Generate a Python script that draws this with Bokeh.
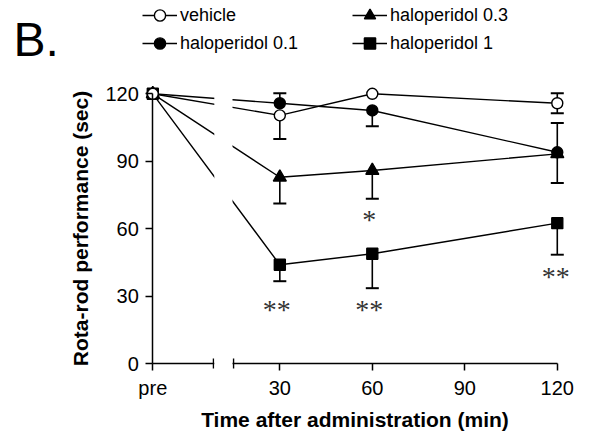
from bokeh.plotting import figure
from bokeh.models import (Range1d, LinearAxis, FixedTicker, Whisker, ColumnDataSource,
                          Legend, LegendItem, Label, TeeHead, CustomJSTickFormatter)
from bokeh.core.properties import value
from bokeh.embed import file_html
from bokeh.resources import INLINE

# ---------------- data ----------------
X_PRE = -11.2                      # position used for the "pre" time point
BREAK = (8.4, 15.0)                # axis break between "pre" and 30 min
X_TICKS = [X_PRE, 30, 60, 90, 120]
TIME_LABELS = ["pre", "30", "60", "90", "120"]
Y_TICKS = [0, 30, 60, 90, 120]

times = [X_PRE, 30, 60, 120]

vehicle = [120, 110.4, 120, 115.8]
vehicle_up = [0, 0, 0, 4.5]
vehicle_dn = [0, 10.5, 0, 4.5]

halo01 = [120, 115.8, 112.6, 94.0]
halo01_up = [0, 4.5, 0, 13.0]
halo01_dn = [0, 0, 7.0, 0]

halo03 = [120, 82.9, 85.9, 93.3]
halo03_up = [0, 0, 0, 0]
halo03_dn = [0, 11.7, 12.6, 13.0]

halo1 = [120, 44.0, 48.9, 62.5]
halo1_up = [0, 0, 0, 0]
halo1_dn = [0, 7.3, 15.3, 14.0]

STAR_X = [59, 29, 59, 119.5]
STAR_Y = [64.0, 24.3, 24.3, 38.6]
STAR_TEXT = ["*", "**", "**", "**"]

# the frame spans the whole canvas; axes are drawn at fixed data locations
X_START, X_END = -60.6, 130.45
Y_START, Y_END = -34.1, 161.47

FONT = "Liberation Sans"
W, H = 589, 440

p = figure(width=W, height=H,
           x_range=Range1d(X_START, X_END), y_range=Range1d(Y_START, Y_END),
           x_axis_location=None, y_axis_location=None,
           toolbar_location=None, output_backend="svg",
           min_border_left=0, min_border_right=0,
           min_border_top=0, min_border_bottom=0)
p.grid.visible = False
p.outline_line_color = None
p.background_fill_color = "white"
p.border_fill_color = "white"

# ---------------- axes ----------------
fmt = CustomJSTickFormatter(args=dict(tick_vals=X_TICKS, tick_names=TIME_LABELS), code="""
const i = tick_vals.indexOf(tick);
return i >= 0 ? tick_names[i] : '';
""")
xaxis = LinearAxis(fixed_location=0, bounds=(X_PRE, 120),
                   ticker=FixedTicker(ticks=X_TICKS, minor_ticks=list(BREAK)),
                   formatter=fmt, axis_label="Time after administration (min)")
yaxis = LinearAxis(fixed_location=X_PRE, bounds=(0, 120),
                   ticker=FixedTicker(ticks=Y_TICKS),
                   axis_label="Rota-rod performance (sec)")
for ax in (xaxis, yaxis):
    ax.axis_line_width = 1.5
    ax.axis_line_color = "black"
    ax.major_tick_line_width = 1.5
    ax.major_tick_line_color = "black"
    ax.major_tick_in = 0
    ax.major_tick_out = 7
    ax.minor_tick_line_width = 1.5
    ax.minor_tick_line_color = "black"
    ax.minor_tick_in = 5
    ax.minor_tick_out = 5
    ax.major_label_text_font = FONT
    ax.major_label_text_font_size = "20px"
    ax.major_label_text_color = "black"
    ax.major_label_standoff = 6
    ax.axis_label_text_font = FONT
    ax.axis_label_text_font_size = "21px"
    ax.axis_label_text_font_style = "bold"
    ax.axis_label_text_color = "black"
    ax.axis_label_standoff = 6
yaxis.major_label_standoff = 7
yaxis.axis_label_standoff = 10
p.add_layout(xaxis, "below")
p.add_layout(yaxis, "left")

# ---------------- series ----------------
series = {
    "vehicle": (vehicle, vehicle_up, vehicle_dn, "circle", 11, "white"),
    "haloperidol 0.1": (halo01, halo01_up, halo01_dn, "circle", 11, "black"),
    "haloperidol 0.3": (halo03, halo03_up, halo03_dn, "triangle", 13, "black"),
    "haloperidol 1": (halo1, halo1_up, halo1_dn, "square", 11, "black"),
}

renderers = {}
# draw order: haloperidol 1, 0.3, 0.1, vehicle (vehicle on top)
order = ["haloperidol 1", "haloperidol 0.3", "haloperidol 0.1", "vehicle"]
lines = {}
for name in order:
    ys, up, dn, marker, size, fill = series[name]
    lines[name] = p.line(times, ys, line_color="black", line_width=1.4)

# white cover for the axis break (lines and axis are interrupted there)
p.quad(left=[BREAK[0] + 0.35], right=[BREAK[1] - 0.35], bottom=[-2.5], top=[125],
       fill_color="white", line_color=None, level="overlay")

for name in order:
    ys, up, dn, marker, size, fill = series[name]
    iu = [i for i in range(len(times)) if up[i] > 0]
    if iu:
        src = ColumnDataSource(dict(base=[times[i] for i in iu],
                                    lower=[ys[i] for i in iu],
                                    upper=[ys[i] + up[i] for i in iu]))
        p.add_layout(Whisker(source=src, base="base", lower="lower", upper="upper",
                             lower_head=None,
                             upper_head=TeeHead(size=13, line_width=2, line_color="black"),
                             line_width=1.6, line_color="black"))
    idn = [i for i in range(len(times)) if dn[i] > 0]
    if idn:
        src = ColumnDataSource(dict(base=[times[i] for i in idn],
                                    lower=[ys[i] - dn[i] for i in idn],
                                    upper=[ys[i] for i in idn]))
        p.add_layout(Whisker(source=src, base="base", lower="lower", upper="upper",
                             upper_head=None,
                             lower_head=TeeHead(size=13, line_width=2, line_color="black"),
                             line_width=1.6, line_color="black"))

for name in order:
    ys, up, dn, marker, size, fill = series[name]
    renderers[name] = p.scatter(times, ys, marker=marker, size=size,
                                fill_color=fill, line_color="black", line_width=1.4)

# significance marks
p.text(x=STAR_X, y=STAR_Y, text=STAR_TEXT, text_align="center",
       text_baseline="alphabetic", text_font=value("Liberation Serif"),
       text_font_size="28px", text_color="#333333")

# ---------------- legends ----------------
def make_legend(names, vx):
    leg = Legend(items=[LegendItem(label=n, renderers=[lines[n], renderers[n]]) for n in names],
                 location=(vx, 383))
    leg.glyph_width = 35
    leg.glyph_height = 28
    leg.label_standoff = 3
    leg.spacing = 0
    leg.padding = 0
    leg.margin = 0
    leg.border_line_color = None
    leg.background_fill_alpha = 0
    leg.label_text_font = FONT
    leg.label_text_font_size = "18px"
    leg.label_text_color = "black"
    return leg

p.add_layout(make_legend(["vehicle", "haloperidol 0.1"], 142))
p.add_layout(make_legend(["haloperidol 0.3", "haloperidol 1"], 352))

p.add_layout(Label(x=13, y=401, x_units="screen", y_units="screen", text="B.",
                   text_font=FONT, text_font_size="48px", text_color="black",
                   text_baseline="alphabetic"))

open("out.html", "w").write(file_html(p, INLINE))
